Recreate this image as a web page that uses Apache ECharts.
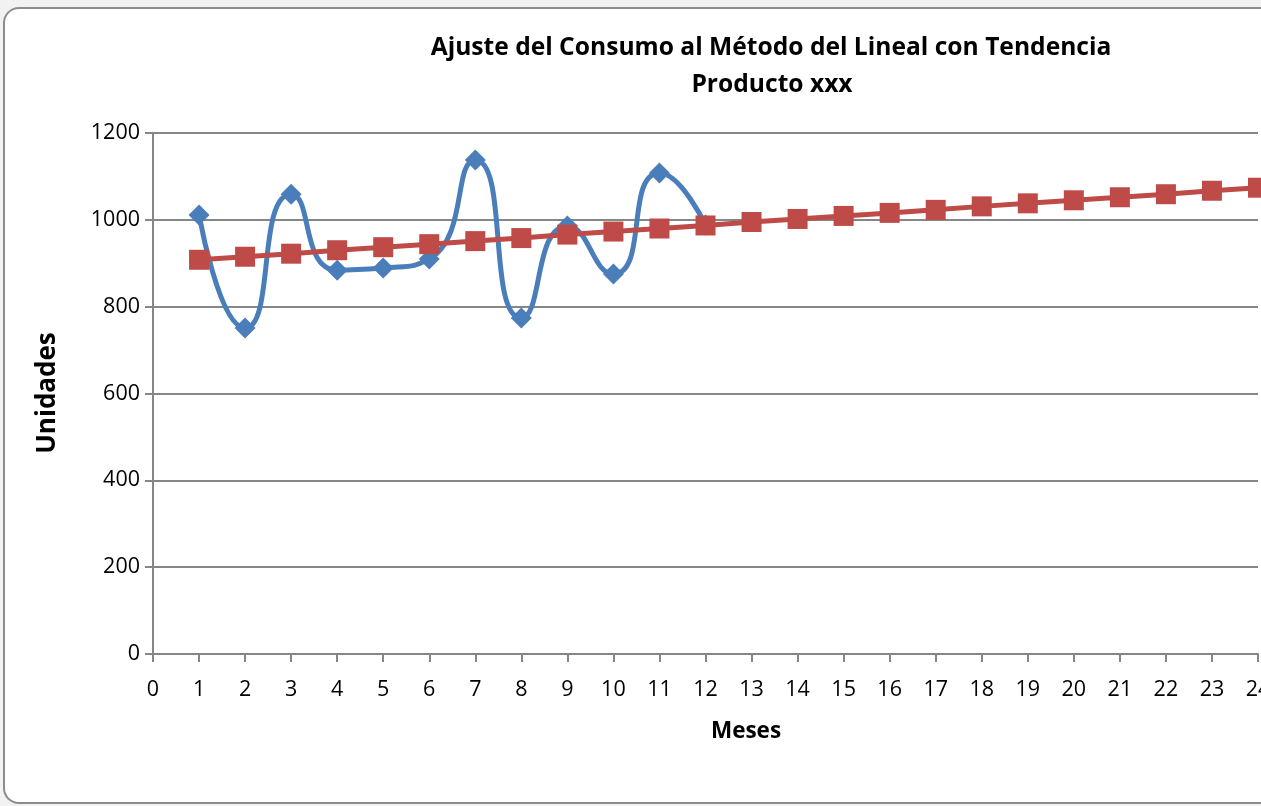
<!DOCTYPE html>
<html>
<head>
<meta charset="utf-8">
<script src="https://cdn.jsdelivr.net/npm/echarts@6/dist/echarts.min.js"></script>
<style>
  html, body { margin: 0; padding: 0; width: 1261px; height: 806px; overflow: hidden; background: #f2f2f2; }
  #card { position: absolute; left: 3px; top: 7px; width: 1300px; height: 797px; background: #ffffff;
          border: 2px solid #8c8c8c; border-right: none; border-radius: 16px; box-sizing: border-box; }
  #chart { position: absolute; left: 0; top: 0; width: 1261px; height: 806px; }
</style>
</head>
<body>
<div id="card"></div>
<div id="chart"></div>
<script>
// ---- data ----
const titleLines = ['Ajuste del Consumo al Método del Lineal con Tendencia', 'Producto xxx'];
const xAxisName = 'Meses';
const yAxisName = 'Unidades';
const mesesConsumo = [1, 2, 3, 4, 5, 6, 7, 8, 9, 10, 11, 12];
const consumo = [1011, 751, 1059, 884, 889, 910, 1138, 774, 986, 875, 1108, 988];
const mesesTendencia = [1, 2, 3, 4, 5, 6, 7, 8, 9, 10, 11, 12, 13, 14, 15, 16, 17, 18, 19, 20, 21, 22, 23, 24];
const tendencia = [908, 915, 922, 930, 937, 944, 951, 958, 966, 973, 980, 987,
                   995, 1002, 1009, 1016, 1023, 1031, 1038, 1045, 1052, 1059, 1067, 1074];

const FONT = '"Open Sans", "Noto Sans", sans-serif';
const chart = echarts.init(document.getElementById('chart'), null, { renderer: 'canvas' });

const option = {
  backgroundColor: 'transparent',
  animation: false,
  grid: { left: 153, top: 133, right: 3, bottom: 152, containLabel: false, outerBoundsMode: 'none' },
  graphic: [
    { type: 'text', x: 771, y: 48, style: { text: titleLines[0], font: 'bold 24.6px ' + FONT, fill: '#000', align: 'center', verticalAlign: 'middle' } },
    { type: 'text', x: 772, y: 85, style: { text: titleLines[1], font: 'bold 24.6px ' + FONT, fill: '#000', align: 'center', verticalAlign: 'middle' } },
    { type: 'text', x: 746, y: 732, style: { text: xAxisName, font: 'bold 22.5px ' + FONT, fill: '#000', align: 'center', verticalAlign: 'middle' } },
    { type: 'text', x: 48, y: 393, rotation: Math.PI / 2, style: { text: yAxisName, font: 'bold 26px ' + FONT, fill: '#000', align: 'center', verticalAlign: 'middle' } }
  ],
  xAxis: {
    type: 'value', min: 0, max: 24, interval: 1,
    axisLine: { show: true, onZero: false, lineStyle: { color: '#868686', width: 2 } },
    axisTick: { show: true, length: 8, lineStyle: { color: '#868686', width: 2 } },
    axisLabel: { color: '#000', fontSize: 21.5, fontFamily: FONT, margin: 25, showMaxLabel: true, hideOverlap: false },
    splitLine: { show: false }
  },
  yAxis: {
    type: 'value', min: 0, max: 1200, interval: 200,
    axisLine: { show: true, lineStyle: { color: '#868686', width: 2 } },
    axisTick: { show: true, length: 8, lineStyle: { color: '#868686', width: 2 } },
    axisLabel: { color: '#000', fontSize: 21.5, fontFamily: FONT, margin: 13, formatter: v => String(v) },
    splitLine: { show: true, lineStyle: { color: '#868686', width: 2 } }
  },
  series: [
    {
      name: 'Consumo', type: 'line', smooth: 0.6,
      data: mesesConsumo.map((m, i) => [m, consumo[i]]),
      symbol: 'diamond', symbolSize: [21, 21],
      lineStyle: { color: '#4a7ebb', width: 5 },
      itemStyle: { color: '#4a7ebb' },
      z: 2
    },
    {
      name: 'Tendencia', type: 'line', smooth: false,
      data: mesesTendencia.map((m, i) => [m, tendencia[i]]),
      symbol: 'rect', symbolSize: 20,
      lineStyle: { color: '#be4b48', width: 5 },
      itemStyle: { color: '#be4b48' },
      z: 3
    }
  ]
};
chart.setOption(option);
</script>
</body>
</html>
